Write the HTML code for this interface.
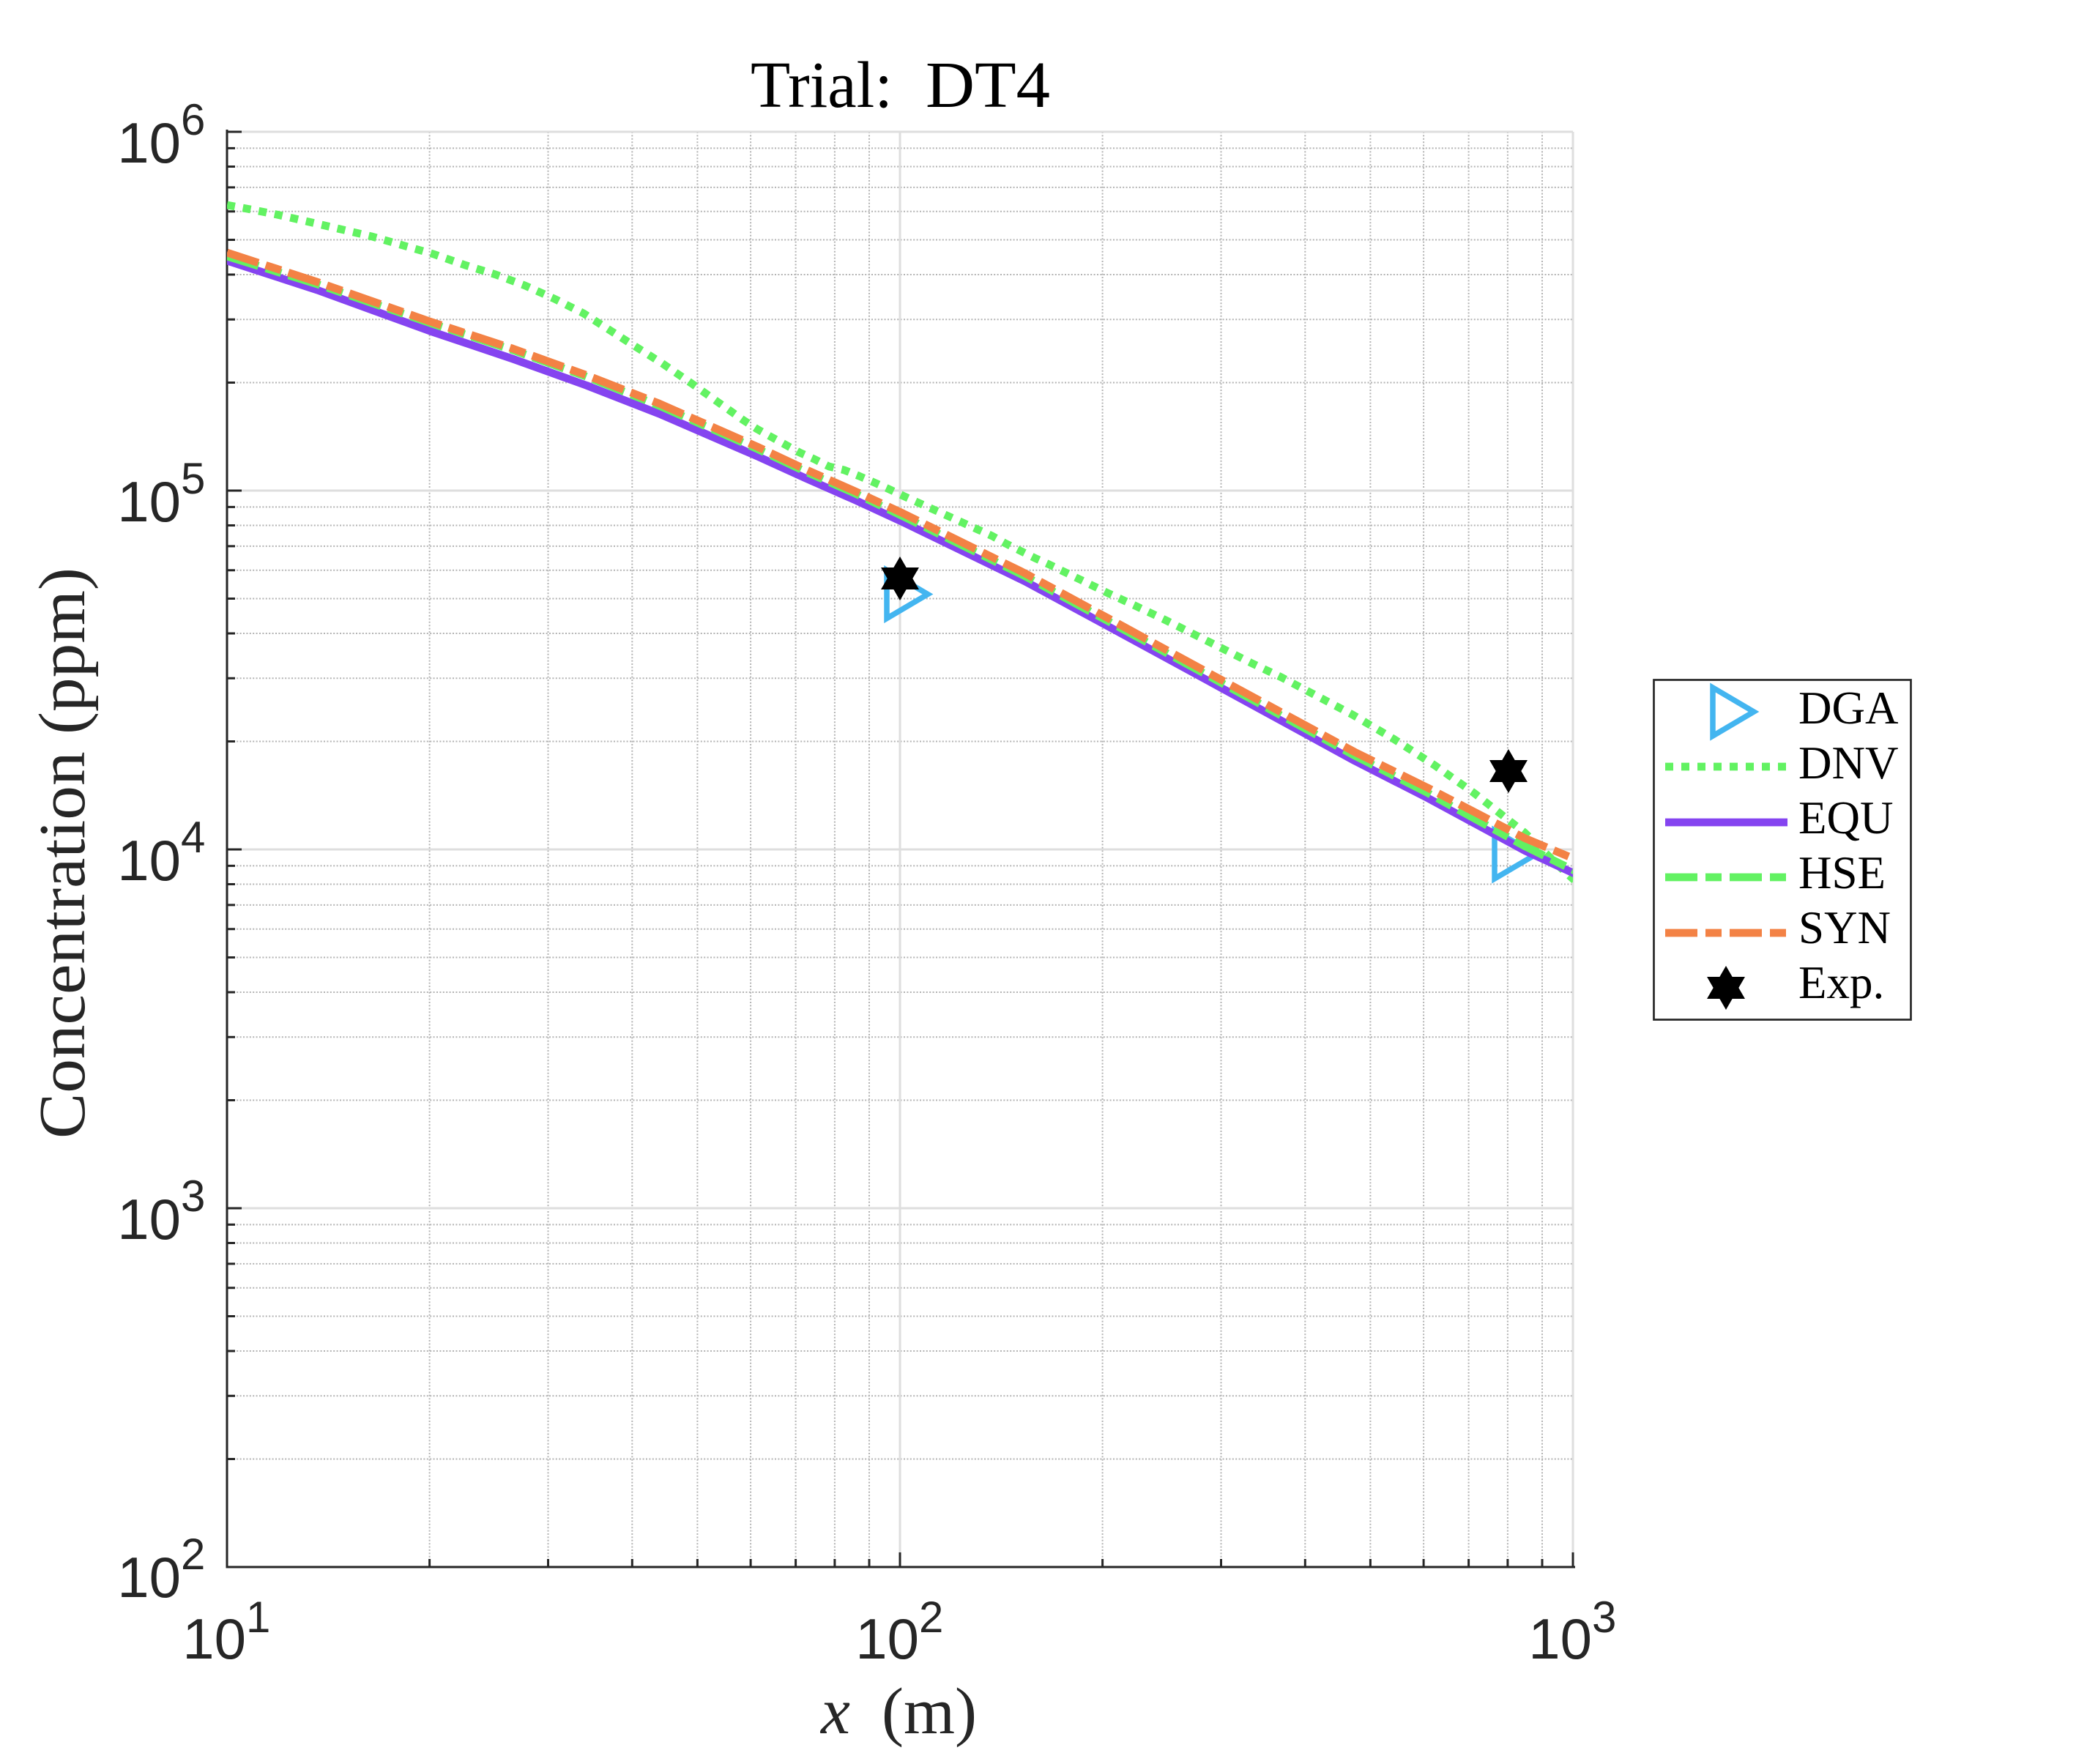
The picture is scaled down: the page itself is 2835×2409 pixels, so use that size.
<!DOCTYPE html>
<html>
<head>
<meta charset="utf-8">
<style>
html,body{margin:0;padding:0;background:#ffffff;width:2835px;height:2409px;overflow:hidden;}
svg{display:block;}
</style>
</head>
<body>
<svg xmlns="http://www.w3.org/2000/svg" width="2835" height="2409" viewBox="0 0 2835 2409">
<defs>
<clipPath id="pc"><rect x="310" y="180" width="1838" height="1960"/></clipPath>
</defs>
<rect x="0" y="0" width="2835" height="2409" fill="#ffffff"/>

<!-- minor grid -->
<g fill="none" stroke="#b3b3b3" stroke-width="2" stroke-dasharray="2 2.4">
<path d="M310 202.4H2148M310 227.5H2148M310 255.9H2148M310 288.7H2148M310 327.5H2148M310 375H2148M310 436.2H2148M310 522.5H2148
M310 692.4H2148M310 717.5H2148M310 745.9H2148M310 778.7H2148M310 817.5H2148M310 865H2148M310 926.2H2148M310 1012.5H2148
M310 1182.4H2148M310 1207.5H2148M310 1235.9H2148M310 1268.7H2148M310 1307.5H2148M310 1355H2148M310 1416.2H2148M310 1502.5H2148
M310 1672.4H2148M310 1697.5H2148M310 1725.9H2148M310 1758.7H2148M310 1797.5H2148M310 1845H2148M310 1906.2H2148M310 1992.5H2148"/>
<path d="M586.6 180V2140M748.5 180V2140M863.3 180V2140M952.4 180V2140M1025.1 180V2140M1086.6 180V2140M1139.9 180V2140M1187 180V2140
M1505.6 180V2140M1667.5 180V2140M1782.3 180V2140M1871.4 180V2140M1944.1 180V2140M2005.6 180V2140M2058.9 180V2140M2106 180V2140"/>
</g>
<!-- major grid -->
<g fill="none" stroke="#dedede" stroke-width="3">
<path d="M310 180H2148M310 670H2148M310 1160H2148M310 1650H2148M1229 180V2140M2148 180V2140"/>
</g>

<!-- axes -->
<g fill="none" stroke="#262626" stroke-width="3">
<path d="M310 178.5V2140H2149.5" stroke-linecap="square"/>
<path d="M310 180h20M310 670h20M310 1160h20M310 1650h20"/>
<path d="M310 202.4h11M310 227.5h11M310 255.9h11M310 288.7h11M310 327.5h11M310 375h11M310 436.2h11M310 522.5h11
M310 692.4h11M310 717.5h11M310 745.9h11M310 778.7h11M310 817.5h11M310 865h11M310 926.2h11M310 1012.5h11
M310 1182.4h11M310 1207.5h11M310 1235.9h11M310 1268.7h11M310 1307.5h11M310 1355h11M310 1416.2h11M310 1502.5h11
M310 1672.4h11M310 1697.5h11M310 1725.9h11M310 1758.7h11M310 1797.5h11M310 1845h11M310 1906.2h11M310 1992.5h11"/>
<path d="M1229 2140v-20M2148 2140v-20"/>
<path d="M586.6 2140v-11M748.5 2140v-11M863.3 2140v-11M952.4 2140v-11M1025.1 2140v-11M1086.6 2140v-11M1139.9 2140v-11M1187 2140v-11
M1505.6 2140v-11M1667.5 2140v-11M1782.3 2140v-11M1871.4 2140v-11M1944.1 2140v-11M2005.6 2140v-11M2058.9 2140v-11M2106 2140v-11"/>
</g>

<!-- y tick labels -->
<g font-family="'Liberation Sans', Arial, sans-serif" fill="#262626">
<text x="247" y="222" font-size="78" text-anchor="end">10</text><text x="247" y="184" font-size="60">6</text>
<text x="247" y="712" font-size="78" text-anchor="end">10</text><text x="247" y="674" font-size="60">5</text>
<text x="247" y="1202" font-size="78" text-anchor="end">10</text><text x="247" y="1164" font-size="60">4</text>
<text x="247" y="1692" font-size="78" text-anchor="end">10</text><text x="247" y="1654" font-size="60">3</text>
<text x="247" y="2181" font-size="78" text-anchor="end">10</text><text x="247" y="2143" font-size="60">2</text>
<!-- x tick labels -->
<text x="336" y="2265" font-size="78" text-anchor="end">10</text><text x="336" y="2229" font-size="60">1</text>
<text x="1255" y="2265" font-size="78" text-anchor="end">10</text><text x="1255" y="2229" font-size="60">2</text>
<text x="2174" y="2265" font-size="78" text-anchor="end">10</text><text x="2174" y="2229" font-size="60">3</text>
</g>

<!-- title and labels -->
<g font-family="'Liberation Serif', 'Times New Roman', serif">
<text x="1025" y="146" font-size="90" fill="#000000" textLength="194" lengthAdjust="spacingAndGlyphs">Trial:</text>
<text x="1264" y="146" font-size="90" fill="#000000" textLength="170" lengthAdjust="spacingAndGlyphs">DT4</text>
<text transform="translate(115,1165) rotate(-90)" font-size="90" text-anchor="middle" fill="#262626" textLength="780" lengthAdjust="spacingAndGlyphs">Concentration (ppm)</text>
<text x="1121" y="2367" font-size="90" fill="#262626"><tspan font-style="italic">x</tspan><tspan x="1204">(m)</tspan></text>
</g>

<!-- DGA markers -->
<g fill="none" stroke="#43b5f0" stroke-width="7.5" stroke-linejoin="miter">
<polygon points="1211,778.5 1211,844.5 1267,811.5"/>
<polygon points="2041,1134 2041,1200 2097,1167"/>
</g>

<g clip-path="url(#pc)" fill="none" stroke-linejoin="round">
<!-- DNV dotted -->
<polyline stroke="#62f262" stroke-width="10.7" stroke-dasharray="11 11" stroke-linecap="butt"
points="310,280 337,285 378,293 422,303 465,313 508,323 550,335 592,347 635,362 677,375 717,390 757,408 797,428 861,469 904,496 945,524 976,546 1014,573 1034,586 1052,596 1072,607 1092,618 1112,627 1132,637 1153,642 1173,650 1194,659 1214,668 1233,677 1253,686 1273,695 1293,704 1313,713 1335,723 1355,732 1373,742 1393,752 1413,762 1433,771 1472,790 1513,810 1552,828 1592,847 1632,867 1672,887 1710,906 1750,925 1788,945 1828,966 1847,976 1903,1009 1959,1045 2013,1083 2064,1123 2082,1137 2128,1182 2150,1202"/>
<!-- EQU solid -->
<polyline stroke="#8544f0" stroke-width="10.7" stroke-linecap="butt"
points="310,356 433,396 587,452 700,490 800,526 900,565 1034,623 1100,653 1168,683 1233,713 1400,794 1533,866 1667,939 1850,1039 1950,1090 2083,1162 2150,1193"/>
<!-- HSE dashed -->
<polyline stroke="#62f262" stroke-width="10.7" stroke-dasharray="45 10.5 22 10.5" stroke-linecap="butt"
points="310,350 433,388 587,441 700,478 800,514 900,554 1034,613 1100,644 1168,674 1233,705 1400,787 1533,859 1667,932 1850,1032 1950,1083 2083,1156 2150,1189"/>
<!-- SYN dash-dot -->
<polyline stroke="#f38245" stroke-width="10.7" stroke-dasharray="45 10.5 22 10.5" stroke-linecap="butt"
points="310,345 433,385 587,439 700,476 800,512 900,551 1034,610 1100,641 1168,671 1233,701 1400,783 1533,855 1667,928 1850,1027 1950,1076 2083,1145 2150,1173"/>
</g>

<!-- Exp markers -->
<g fill="#000000">
<polygon transform="translate(1229,790)" points="0,-30 8.66,-15 25.98,-15 17.32,0 25.98,15 8.66,15 0,30 -8.66,15 -25.98,15 -17.32,0 -25.98,-15 -8.66,-15"/>
<polygon transform="translate(2060,1053)" points="0,-30 8.66,-15 25.98,-15 17.32,0 25.98,15 8.66,15 0,30 -8.66,15 -25.98,15 -17.32,0 -25.98,-15 -8.66,-15"/>
</g>

<!-- legend -->
<rect x="2258.5" y="928.5" width="351" height="464" fill="#ffffff" stroke="#262626" stroke-width="2.7"/>
<polygon points="2339,939 2339,1005 2395,972" fill="none" stroke="#43b5f0" stroke-width="7.5"/>
<line x1="2274" y1="1047" x2="2441" y2="1047" stroke="#62f262" stroke-width="10.7" stroke-dasharray="11 11"/>
<line x1="2274" y1="1123" x2="2441" y2="1123" stroke="#8544f0" stroke-width="10.7"/>
<line x1="2274" y1="1198" x2="2441" y2="1198" stroke="#62f262" stroke-width="10.7" stroke-dasharray="44 11 22 11"/>
<line x1="2274" y1="1274" x2="2441" y2="1274" stroke="#f38245" stroke-width="10.7" stroke-dasharray="44 11 22 11"/>
<polygon transform="translate(2357,1349)" fill="#000000" points="0,-30 8.66,-15 25.98,-15 17.32,0 25.98,15 8.66,15 0,30 -8.66,15 -25.98,15 -17.32,0 -25.98,-15 -8.66,-15"/>
<g font-family="'Liberation Serif', 'Times New Roman', serif" font-size="63" fill="#000000">
<text x="2456" y="988">DGA</text>
<text x="2456" y="1063">DNV</text>
<text x="2456" y="1138">EQU</text>
<text x="2456" y="1213">HSE</text>
<text x="2456" y="1288">SYN</text>
<text x="2456" y="1363">Exp.</text>
</g>
</svg>
</body>
</html>
